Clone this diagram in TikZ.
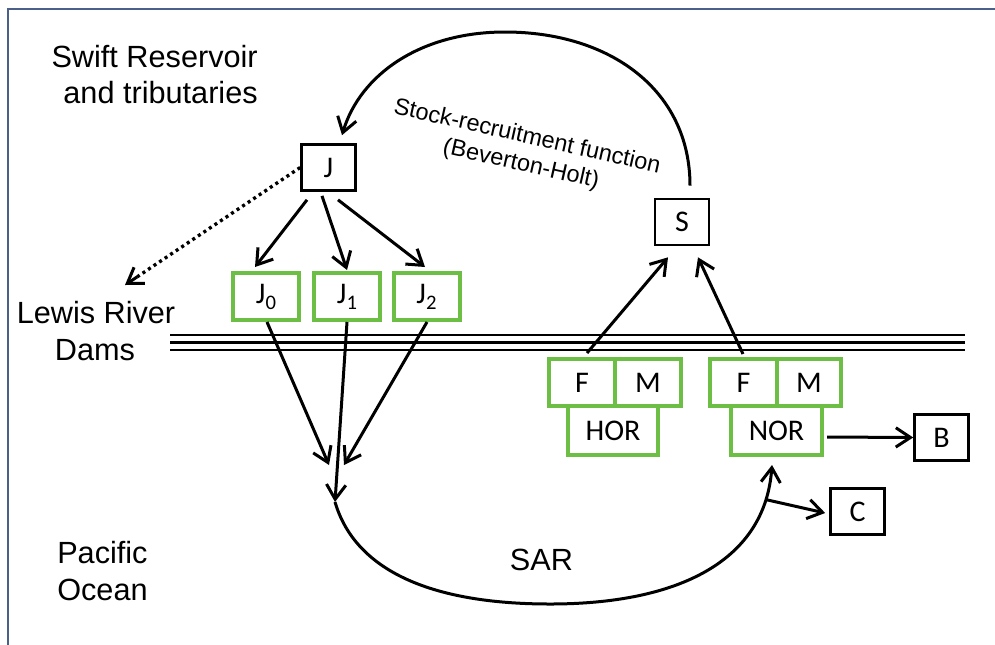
\documentclass[tikz,border=0pt]{standalone}
\usepackage{fontspec}
\setmainfont{Liberation Sans}
\newfontfamily\calfont{Carlito}
\usetikzlibrary{arrows.meta,calc}
\definecolor{boxgreen}{RGB}{108,190,69}
\definecolor{framecol}{RGB}{74,96,136}
\begin{document}
\begin{tikzpicture}[x=0.75pt,y=-0.75pt,
  bbox/.style={draw=black,line width=2pt,inner sep=0pt,minimum width=40.5pt,minimum height=34.5pt,font=\calfont\fontsize{22.5}{26}\selectfont},
  gbox/.style={draw=boxgreen,line width=3pt,inner sep=0pt,minimum height=35.25pt,font=\calfont\fontsize{22.5}{26}\selectfont},
  region/.style={font=\fontsize{23}{27.5}\selectfont,inner sep=0pt},
  tip/.style={-{Straight Barb[length=11pt,width=14.5pt]}},
  arr/.style={line width=2.25pt,tip},
  dotline/.style={line width=2.5pt,dash pattern=on 2.3pt off 2.7pt},
]
\fill[white] (0,0) rectangle (995,644);
\useasboundingbox (0,0) rectangle (995,644);
% frame
\draw[framecol,line width=1.5pt] (1000,8.5) -- (7.5,8.5) -- (7.5,650);

% region labels
\node[region,anchor=base east] (swift1) at (258,67) {Swift Reservoir};
\node[region,anchor=base east] (swift2) at (258,103) {and tributaries};
\node[region,anchor=base] (lewis1) at (96,323) {Lewis River};
\node[region,anchor=base] (lewis2) at (95,360) {Dams};
\node[region,anchor=base west] (pac1) at (57,563) {Pacific};
\node[region,anchor=base west] (pac2) at (57,600) {Ocean};
\node[region,anchor=base] (sar) at (541.5,570) {SAR};
\node[rotate=-12.7,align=center,inner sep=0pt,font=\fontsize{17.6}{21}\selectfont] (srf) at (524,151) {Stock-recruitment function\\(Beverton-Holt)};

% dams
\draw[line width=2.1pt] (170,335) -- (965,335);
\draw[line width=2.1pt] (170,342.5) -- (965,342.5);
\draw[line width=2.1pt] (170,350) -- (965,350);

% boxes
\node[bbox] (J) at (328.5,167.5) {J};
\node[gbox,minimum width=49.5pt] (J0) at (266,296.5) {J\raisebox{-4.5pt}{\fontsize{15.5}{15.5}\selectfont 0}};
\node[gbox,minimum width=49.5pt] (J1) at (347,296.5) {J\raisebox{-4.5pt}{\fontsize{15.5}{15.5}\selectfont 1}};
\node[gbox,minimum width=49.5pt] (J2) at (426.5,296.5) {J\raisebox{-4.5pt}{\fontsize{15.5}{15.5}\selectfont 2}};
\node[bbox] (S) at (682,222) {S};
\node[gbox,minimum width=49.5pt] (hF) at (582,382.5) {F};
\node[gbox,minimum width=49.5pt] (hM) at (648,382.5) {M};
\node[gbox,minimum width=67.5pt,minimum height=36.75pt] (HOR) at (613,430.5) {HOR};
\node[gbox,minimum width=50.25pt] (nF) at (743.5,382.5) {F};
\node[gbox,minimum width=48pt] (nM) at (809,382.5) {M};
\node[gbox,minimum width=68.25pt,minimum height=36.75pt] (NOR) at (776.5,430.5) {NOR};
\node[bbox] (B) at (941.5,437.5) {B};
\node[bbox] (C) at (857.5,511.5) {C};

% free coordinates
\coordinate (lewisarrow) at (125,285);
\coordinate (conf0) at (329,465);
\coordinate (conf1) at (335,502);
\coordinate (conf2) at (344,465);
\coordinate (sarbot) at (550,604);
\coordinate (srtop) at (505,32);

% connectors
\draw[arr] ($(J.south)+(-21.5,8)$) -- ($(J0.north)+(-11,-4)$);
\draw[arr] ($(J.south)+(-6.5,4)$) -- ($(J1.north)+(0,-1)$);
\draw[arr] ($(J.south)+(9.5,8)$) -- ($(J2.north)+(-1.5,-4)$);
\draw[dotline] (J.west) -- ($(J.west)!0.93!(lewisarrow)$);
\draw[arr] ($(J.west)!0.93!(lewisarrow)$) -- (lewisarrow);
\draw[arr] ($(J0.south)+(1,0)$) -- (conf0);
\draw[arr] (J1.south) -- (conf1);
\draw[arr] ($(J2.south)+(0.5,0)$) -- (conf2);
\draw[arr] (conf1) .. controls (355,570) and (430,604) .. (sarbot)
  .. controls (680,604) and (765,560) .. ($(NOR.south)+(-4.5,8)$) coordinate[pos=0.87] (cb);
\draw[arr] (cb) -- ($(C.west)+(-4,1.5)$);
\draw[arr] ($(NOR.east)+(3,6.5)$) -- (B.west);
\draw[arr] ($(hF.north)+(5,-4)$) -- ($(S.south)+(-14,11)$);
\draw[arr] ($(nF.north)+(-0.5,-3)$) -- ($(S.south)+(16,11)$);
\draw[arr] ($(S.north)+(8,-12)$) .. controls (690,90) and (610,32) .. (srtop)
  .. controls (420,32) and (360,75) .. ($(J.north)+(13.5,-8)$);
\end{tikzpicture}
\end{document}
